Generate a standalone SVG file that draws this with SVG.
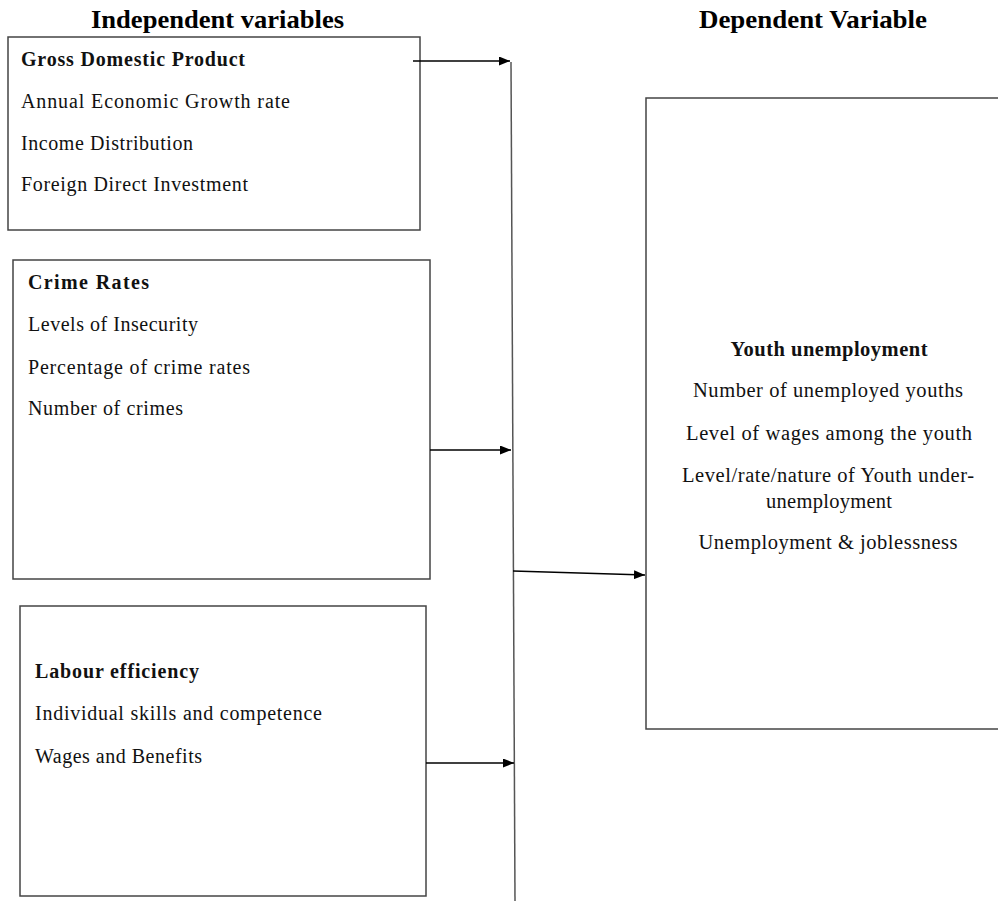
<svg xmlns="http://www.w3.org/2000/svg" width="998" height="901" viewBox="0 0 998 901">
  <style>
    .box { fill: #ffffff; stroke: #444444; stroke-width: 1.5; }
    .title { font-family: "Liberation Serif", "Times New Roman", serif; font-weight: bold; font-size: 26px; fill: #000; }
    .head { font-family: "Liberation Serif", "Times New Roman", serif; font-weight: bold; font-size: 20px; fill: #111; }
    .item { font-family: "Liberation Serif", "Times New Roman", serif; font-size: 20px; fill: #111; }
    .head4 { font-family: "Liberation Serif", "Times New Roman", serif; font-weight: bold; font-size: 20.5px; fill: #111; text-anchor: middle; }
    .item4 { font-family: "Liberation Serif", "Times New Roman", serif; font-size: 20.5px; fill: #111; text-anchor: middle; }
    .conn { fill: none; stroke: #000; stroke-width: 1.5; }
    .spine { fill: none; stroke: #555; stroke-width: 1.5; }
  </style>
  <defs>
    <marker id="arrow" markerUnits="userSpaceOnUse" markerWidth="11" markerHeight="9" refX="11" refY="4.5" orient="auto">
      <path d="M0,0 L11,4.5 L0,9 z" fill="#000"/>
    </marker>
  </defs>
  <rect width="998" height="901" fill="#ffffff"/>

  <text class="title" x="91" y="28" textLength="253" lengthAdjust="spacingAndGlyphs">Independent variables</text>
  <text class="title" x="699" y="28" textLength="228" lengthAdjust="spacingAndGlyphs">Dependent Variable</text>

  <g id="gdp">
    <rect class="box" x="8" y="37" width="412" height="193"/>
    <text class="head" x="21" y="66" textLength="224" lengthAdjust="spacing">Gross Domestic Product</text>
    <text class="item" x="21" y="108" textLength="269" lengthAdjust="spacing">Annual Economic Growth rate</text>
    <text class="item" x="21" y="150" textLength="172" lengthAdjust="spacing">Income Distribution</text>
    <text class="item" x="21" y="191" textLength="227" lengthAdjust="spacing">Foreign Direct Investment</text>
  </g>

  <g id="crime">
    <rect class="box" x="13" y="260" width="417" height="319"/>
    <text class="head" x="28" y="289" textLength="121" lengthAdjust="spacing">Crime Rates</text>
    <text class="item" x="28" y="331" textLength="170" lengthAdjust="spacing">Levels of Insecurity</text>
    <text class="item" x="28" y="374" textLength="222" lengthAdjust="spacing">Percentage of crime rates</text>
    <text class="item" x="28" y="415" textLength="155" lengthAdjust="spacing">Number of crimes</text>
  </g>

  <g id="labour">
    <rect class="box" x="20" y="606" width="406" height="290"/>
    <text class="head" x="35" y="678" textLength="164" lengthAdjust="spacing">Labour efficiency</text>
    <text class="item" x="35" y="720" textLength="287" lengthAdjust="spacing">Individual skills and competence</text>
    <text class="item" x="35" y="763" textLength="167" lengthAdjust="spacing">Wages and Benefits</text>
  </g>

  <g id="youth">
    <rect class="box" x="646" y="98" width="360" height="631"/>
    <text class="head4" x="829" y="356" textLength="197" lengthAdjust="spacing">Youth unemployment</text>
    <text class="item4" x="828" y="397" textLength="270" lengthAdjust="spacing">Number of unemployed youths</text>
    <text class="item4" x="829" y="440" textLength="286" lengthAdjust="spacing">Level of wages among the youth</text>
    <text class="item4" x="828" y="482" textLength="292" lengthAdjust="spacing">Level/rate/nature of Youth under-</text>
    <text class="item4" x="829" y="508" textLength="126" lengthAdjust="spacing">unemployment</text>
    <text class="item4" x="828" y="549" textLength="259" lengthAdjust="spacing">Unemployment &amp; joblessness</text>
  </g>

  <g id="connectors">
    <path class="spine" d="M511,62 L515,901"/>
    <path class="conn" d="M413,61 H510" marker-end="url(#arrow)"/>
    <path class="conn" d="M430,450 H511" marker-end="url(#arrow)"/>
    <path class="conn" d="M426,763 H514" marker-end="url(#arrow)"/>
    <path class="conn" d="M513,571 L645,575" marker-end="url(#arrow)"/>
  </g>
</svg>
